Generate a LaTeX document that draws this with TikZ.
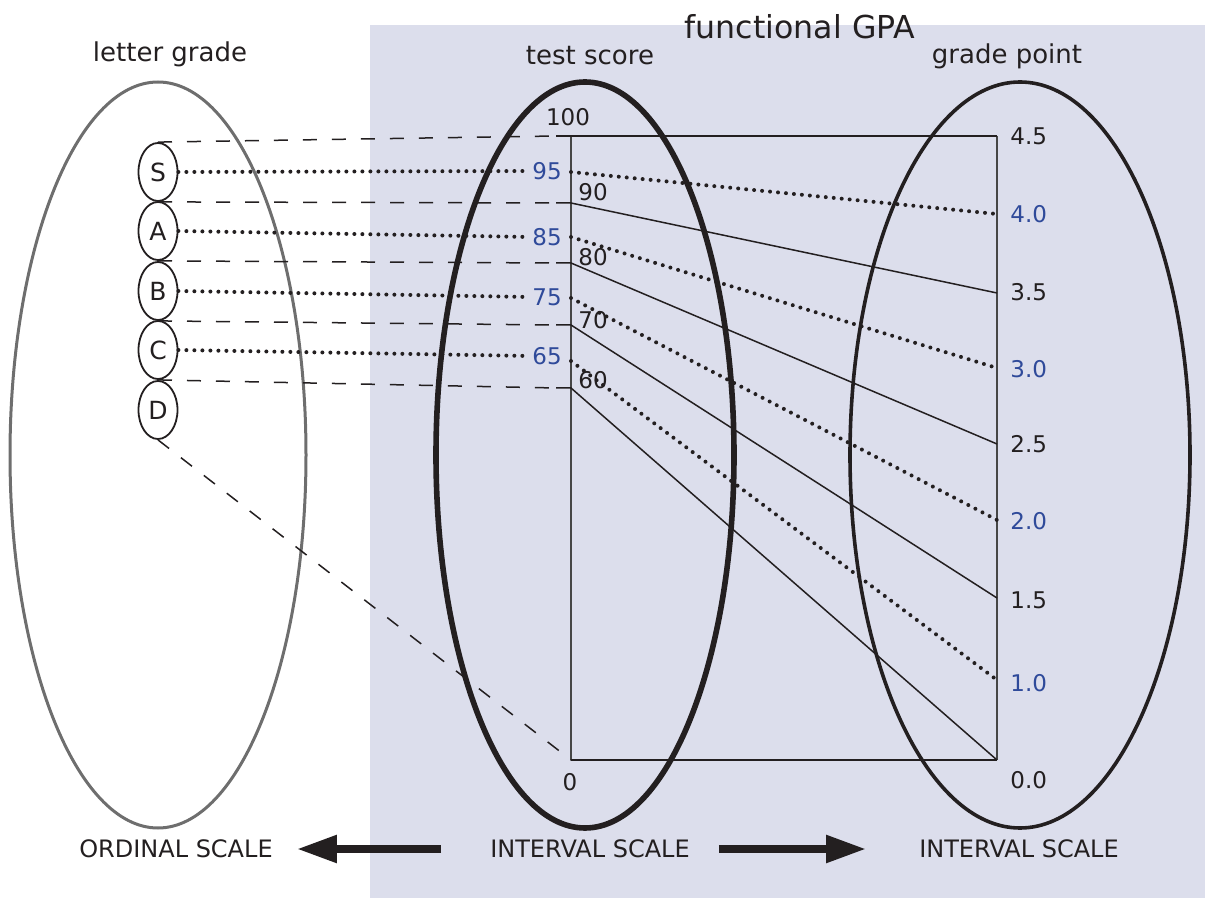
\documentclass[tikz,border=0pt]{standalone}
\usepackage{fontspec}
\setmainfont{DejaVu Sans}
\usetikzlibrary{arrows.meta,shapes.geometric}
\definecolor{panel}{RGB}{220,222,236}
\definecolor{inkdark}{RGB}{35,31,32}
\definecolor{scoreblue}{RGB}{47,74,154}
\definecolor{ringgray}{RGB}{110,110,110}

\begin{document}
\begin{tikzpicture}[x=0.5pt,y=-0.5pt,
  grade/.style={ellipse,draw=inkdark,line width=0.9pt,minimum width=19.5pt,minimum height=29pt,inner sep=0pt,text=inkdark,font=\fontsize{12.5}{14}\selectfont},
  num/.style={text=inkdark,font=\fontsize{11.5}{13}\selectfont,inner sep=1pt},
  bnum/.style={num,text=scoreblue},
  title/.style={text=inkdark,font=\fontsize{13}{15}\selectfont},
  scalelbl/.style={text=inkdark,font=\fontsize{12}{14}\selectfont},
  mapline/.style={inkdark,line width=0.75pt},
  dotline/.style={inkdark,line width=2pt,line cap=round,dash pattern=on 0pt off 4pt},
  dashline/.style={inkdark,line width=0.75pt,dash pattern=on 7pt off 7.5pt},
  axisline/.style={gray!55!black,line width=1.1pt},
  bigarrow/.style={inkdark,line width=4pt,-{Triangle[length=20pt,width=13pt]}}]
\useasboundingbox (0,0) rectangle (1205,898);
\fill[panel] (370,25) rectangle (1205,898);

% rings
\draw[ringgray,line width=1.5pt] (158,455) ellipse [x radius=74pt,y radius=186.5pt];
\draw[inkdark,line width=2.8pt] (585,455) ellipse [x radius=74.5pt,y radius=186.5pt];
\draw[inkdark,line width=1.8pt] (1020,455) ellipse [x radius=85pt,y radius=186.5pt];

% titles
\node[text=inkdark,font=\fontsize{15.8}{18}\selectfont] (functional) at (800,27) {functional GPA};
\node[title] (lettergrade) at (170,54) {letter grade};
\node[title] (testscore) at (590,56) {test score};
\node[title] (gradepoint) at (1007,56) {grade point};

% letter grades
\node[grade] (S) at (158,172) {S};
\node[grade] (A) at (158,231) {A};
\node[grade] (B) at (158,291) {B};
\node[grade] (C) at (158,350) {C};
\node[grade] (D) at (158,410) {D};

% test score axis
\coordinate (t100) at (571,136);
\coordinate (t95) at (571,172);
\coordinate (t90) at (571,203);
\coordinate (t85) at (571,237);
\coordinate (t80) at (571,263);
\coordinate (t75) at (571,298);
\coordinate (t70) at (571,325);
\coordinate (t65) at (571,361);
\coordinate (t60) at (571,388);
\coordinate (t0) at (571,760);
\coordinate (s100) at (556,136);
\coordinate (s90) at (556,203);
\coordinate (s80) at (556,263);
\coordinate (s70) at (556,325);
\coordinate (s60) at (556,388);

% grade point axis
\coordinate (g45) at (997,136);
\coordinate (g40) at (997,214);
\coordinate (g35) at (997,293);
\coordinate (g30) at (997,368);
\coordinate (g25) at (997,444);
\coordinate (g20) at (997,520);
\coordinate (g15) at (997,598);
\coordinate (g10) at (997,680);
\coordinate (g00) at (997,760);

\draw[axisline] (t100) -- (t0);
\draw[axisline] (g45) -- (g00);

% score labels
\node[num] (n100) at (568,117) {100};
\node[num] (n90) at (593,192) {90};
\node[num] (n80) at (593,257) {80};
\node[num] (n70) at (593,320) {70};
\node[num] (n60) at (593,380) {60};
\node[num] (n0) at (570,782) {0};
\node[bnum] (n95) at (547,171) {95};
\node[bnum] (n85) at (547,237) {85};
\node[bnum] (n75) at (547,297) {75};
\node[bnum] (n65) at (547,356) {65};

% grade point labels
\node[num,anchor=west] (p45) at (1008,136) {4.5};
\node[bnum,anchor=west] (p40) at (1008,214) {4.0};
\node[num,anchor=west] (p35) at (1008,292) {3.5};
\node[bnum,anchor=west] (p30) at (1008,369) {3.0};
\node[num,anchor=west] (p25) at (1008,444) {2.5};
\node[bnum,anchor=west] (p20) at (1008,521) {2.0};
\node[num,anchor=west] (p15) at (1008,600) {1.5};
\node[bnum,anchor=west] (p10) at (1008,683) {1.0};
\node[num,anchor=west] (p00) at (1008,780) {0.0};

% solid mapping
\draw[mapline] (s100) -- (g45);
\draw[mapline] (s90) -- (t90) -- (g35);
\draw[mapline] (s80) -- (t80) -- (g25);
\draw[mapline] (s70) -- (t70) -- (g15);
\draw[mapline] (s60) -- (t60) -- (g00);
\draw[mapline] (t0) -- (g00);

% dashed class borders
\draw[dashline] (S.north) -- (s100);
\draw[dashline] (S.south) -- (s90);
\draw[dashline] (A.south) -- (s80);
\draw[dashline] (B.south) -- (s70);
\draw[dashline] (C.south) -- (s60);
\draw[dashline] (D.south) -- (t0);

% dotted representative values
\draw[dotline,shorten >=3pt] (S.east) -- (n95.west);
\draw[dotline,shorten >=3pt] (A.east) -- (n85.west);
\draw[dotline,shorten >=3pt] (B.east) -- (n75.west);
\draw[dotline,shorten >=3pt] (C.east) -- (n65.west);
\draw[dotline] (t95) -- (g40);
\draw[dotline] (t85) -- (g30);
\draw[dotline] (t75) -- (g20);
\draw[dotline] (t65) -- (g10);

% scales
\node[scalelbl] (ordinal) at (176,849) {ORDINAL SCALE};
\node[scalelbl] (interval) at (590,849) {INTERVAL SCALE};
\node[scalelbl] (intervalgp) at (1019,849) {INTERVAL SCALE};
\draw[bigarrow,shorten <=21pt,shorten >=8.5pt] (interval.west) -- (ordinal.east);
\draw[bigarrow,shorten <=11pt,shorten >=23pt] (interval.east) -- (intervalgp.west);
\end{tikzpicture}
\end{document}
